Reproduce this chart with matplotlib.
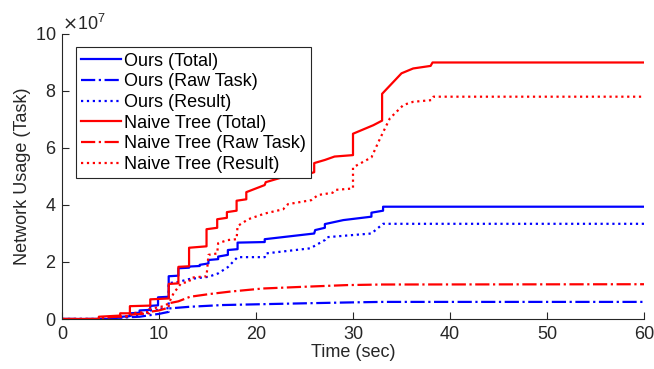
import numpy as np
import matplotlib.pyplot as plt

plt.rcParams['font.family'] = ['Liberation Sans', 'DejaVu Sans']
plt.rcParams['font.size'] = 13

# cumulative network usage (x1e7) over time (sec), step-like traces
ours_total_t = [0, 5, 5, 7, 7, 8, 8, 9.1, 9.1, 9.9, 9.9, 11, 11, 12, 12, 13.1, 13.1, 14.2, 14.2, 15.1, 15.1,
                16.1, 16.1, 17.1, 17.1, 18.1, 18.1, 20.9, 20.9, 26, 26.1, 27.1, 27.1, 29, 31.9, 31.9, 33.1, 33.1, 60]
ours_total_v = [0, 0, 0.05, 0.1, 0.2, 0.22, 0.3, 0.32, 0.46, 0.48, 0.76, 0.78, 1.5, 1.52, 1.78, 1.8, 1.84, 1.86, 1.9,
                1.95, 2.07, 2.1, 2.19, 2.25, 2.42, 2.45, 2.68, 2.7, 2.8, 3.0, 3.12, 3.2, 3.33, 3.47, 3.59, 3.73, 3.8,
                3.94, 3.94]

ours_raw_t = [0, 5, 5, 8, 10, 11, 11, 13.2, 16.6, 20.7, 24.9, 29.4, 33, 60]
ours_raw_v = [0, 0, 0.03, 0.08, 0.18, 0.25, 0.37, 0.43, 0.49, 0.52, 0.55, 0.58, 0.6, 0.6]

ours_res_t = [0, 6, 6, 7, 7, 8, 8, 9, 9, 10, 10, 11, 11, 12, 13.1, 15.1, 16.1, 17.1, 18.1, 20.9, 21,
              25.6, 27.1, 27.3, 31.9, 33.1, 60]
ours_res_v = [0, 0, 0.05, 0.08, 0.12, 0.15, 0.2, 0.22, 0.3, 0.32, 0.36, 0.38, 1.26, 1.3, 1.4, 1.48, 1.6, 1.82,
              2.17, 2.17, 2.3, 2.48, 2.77, 2.87, 3.0, 3.34, 3.34]

naive_total_t = [0, 3.8, 3.8, 6, 6, 7, 7, 9.1, 9.1, 11, 11, 12, 12, 13.1, 13.1, 14.9, 14.9, 16, 16, 17, 17, 18, 18,
                 19, 19, 20.9, 21, 23, 25.5, 26, 26, 27.1, 28.1, 30, 30, 32.1, 33, 33, 35, 36.2, 38, 38.2, 60]
naive_total_v = [0, 0, 0.08, 0.12, 0.2, 0.2, 0.45, 0.47, 0.69, 0.72, 1.23, 1.25, 1.83, 1.85, 2.5, 2.55, 3.15, 3.2,
                 3.5, 3.55, 3.75, 3.8, 4.15, 4.2, 4.45, 4.7, 4.8, 5.0, 5.1, 5.15, 5.47, 5.58, 5.7, 5.75, 6.5, 6.8,
                 6.96, 7.9, 8.62, 8.79, 8.88, 9.0, 9.0]

naive_raw_t = [0, 4, 4, 7, 7, 9, 9, 10, 11, 11, 12, 13.2, 15.3, 17.3, 20.7, 24.9, 29.4, 33, 60]
naive_raw_v = [0, 0, 0.05, 0.1, 0.15, 0.2, 0.25, 0.3, 0.4, 0.55, 0.62, 0.78, 0.88, 0.96, 1.07, 1.13, 1.19, 1.21, 1.22]

naive_res_t = [0, 4, 4, 7, 7, 9, 9, 10.5, 11, 11.5, 12.3, 13.1, 13.3, 14.9, 15.1, 16, 16.1, 17.1, 18, 18.1, 19.2,
               20.9, 22.8, 23.3, 25.7, 26.4, 27.9, 28.2, 30, 30, 31.9, 32.8, 33.8, 35.2, 36.2, 38.1, 38.3, 60]
naive_res_v = [0, 0, 0.05, 0.1, 0.2, 0.25, 0.35, 0.45, 0.55, 0.9, 1.26, 1.3, 1.45, 1.5, 2.25, 2.3, 2.66, 2.77, 2.8,
               3.26, 3.5, 3.7, 3.85, 4.03, 4.17, 4.35, 4.43, 4.53, 4.58, 5.32, 5.67, 6.34, 7.04, 7.51, 7.62, 7.68,
               7.8, 7.8]

scale = 1e7

fig = plt.figure(figsize=(6.54, 3.69), dpi=100)
ax = fig.add_axes([0.0948, 0.1355, 0.8899, 0.7724])

lw = 1.6
ax.plot(ours_total_t, np.array(ours_total_v) * scale, '-', color='#0000ff', lw=lw, label='Ours (Total)')
ax.plot(ours_raw_t, np.array(ours_raw_v) * scale, '-.', color='#0000ff', lw=lw, label='Ours (Raw Task)')
ax.plot(ours_res_t, np.array(ours_res_v) * scale, ':', color='#0000ff', lw=lw, label='Ours (Result)')
ax.plot(naive_total_t, np.array(naive_total_v) * scale, '-', color='#ff0000', lw=lw, label='Naive Tree (Total)')
ax.plot(naive_raw_t, np.array(naive_raw_v) * scale, '-.', color='#ff0000', lw=lw, label='Naive Tree (Raw Task)')
ax.plot(naive_res_t, np.array(naive_res_v) * scale, ':', color='#ff0000', lw=lw, label='Naive Tree (Result)')

ax.set_xlim(0, 60)
ax.set_ylim(0, 10e7)
ax.set_xticks(np.arange(0, 61, 10))
ax.set_yticks(np.arange(0, 10.1e7, 2e7))
ax.ticklabel_format(axis='y', style='sci', scilimits=(7, 7), useMathText=True)
ax.yaxis.get_offset_text().set_fontsize(13)
ax.yaxis.get_offset_text().set_color('#262626')

ax.spines['top'].set_visible(False)
ax.spines['right'].set_visible(False)
for s in ('left', 'bottom'):
    ax.spines[s].set_color('#262626')
    ax.spines[s].set_linewidth(0.8)
ax.tick_params(direction='in', length=5, width=0.8, colors='#262626', labelsize=13)
ax.tick_params(axis='x', pad=5)
ax.tick_params(axis='y', pad=4)

ax.set_xlabel('Time (sec)', fontsize=13, color='#262626', labelpad=1)
ax.set_ylabel('Network Usage (Task)', fontsize=13, color='#262626', labelpad=3)

leg = ax.legend(loc='upper left', bbox_to_anchor=(0.0235, 0.953), borderaxespad=0,
                fontsize=13, handlelength=2.2, handletextpad=0.15, labelspacing=0.2,
                borderpad=0.3, fancybox=False, framealpha=1, edgecolor='#262626')
leg.get_frame().set_linewidth(0.8)
for t in leg.get_texts():
    t.set_color('#000000')

fig.savefig('out.png', dpi=100)
